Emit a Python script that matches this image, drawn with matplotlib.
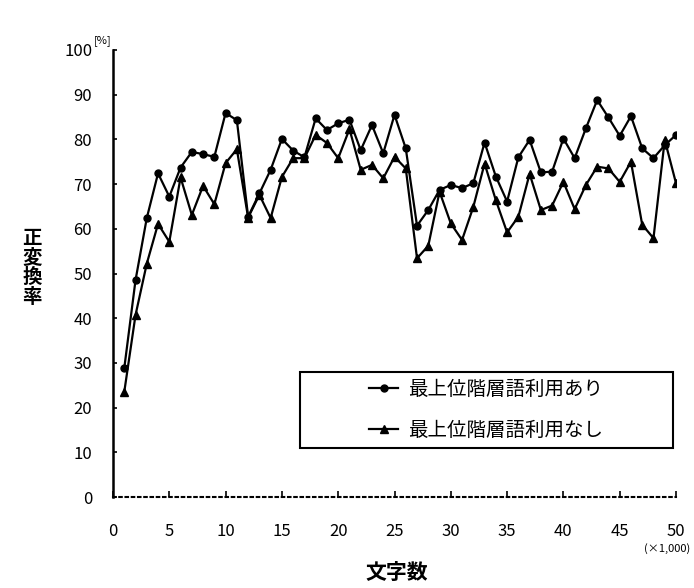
import matplotlib
matplotlib.use("Agg")
import matplotlib.pyplot as plt
from matplotlib.patches import Rectangle

plt.rcParams['font.family'] = ['Noto Sans CJK JP', 'DejaVu Sans']

chars_k = list(range(1, 51))
with_top = [28.8, 48.5, 62.4, 72.4, 67.2, 73.7, 77.2, 76.7, 76.1, 85.9,
            84.3, 62.7, 67.9, 73.2, 80.1, 77.5, 76.0, 84.7, 82.1, 83.6,
            84.4, 77.6, 83.2, 76.9, 85.5, 78.0, 60.7, 64.2, 68.7, 69.8,
            69.1, 70.2, 79.3, 71.7, 66.1, 76.0, 79.9, 72.6, 72.8, 80.2,
            75.8, 82.5, 88.8, 84.9, 80.8, 85.2, 78.0, 75.8, 78.7, 81.0]
without_top = [23.5, 40.7, 52.2, 61.1, 57.1, 71.5, 63.1, 69.6, 65.5, 74.7,
               77.8, 62.5, 67.6, 62.4, 71.6, 75.8, 75.8, 81.0, 79.2, 75.8,
               82.3, 73.2, 74.3, 71.3, 76.1, 73.5, 53.4, 56.2, 68.3, 61.2,
               57.5, 64.9, 74.6, 66.4, 59.2, 62.7, 72.3, 64.2, 65.2, 70.5,
               64.4, 69.8, 73.9, 73.5, 70.5, 75.0, 60.9, 57.9, 79.9, 70.2]
labels = ['最上位階層語利用あり', '最上位階層語利用なし']
xticks = list(range(0, 51, 5))
yticks = list(range(0, 101, 10))

fig = plt.figure(figsize=(6.94, 5.88), dpi=100)
ax = fig.add_axes([113/694, 91/588, 563/694, 447/588])

ax.plot(chars_k, with_top, color='black', lw=1.6, marker='o', ms=5, label=labels[0])
ax.plot(chars_k, without_top, color='black', lw=1.6, marker='^', ms=5.5, label=labels[1])

ax.set_xlim(0, 50)
ax.set_ylim(0, 100)
ax.set_xticks(xticks)
ax.set_yticks(yticks)
ax.tick_params(axis='x', direction='in', length=4, width=1.2, pad=19, labelsize=12)
ax.tick_params(axis='y', direction='in', length=3, width=1.2, pad=15, labelsize=12)
for s in ('top', 'right'):
    ax.spines[s].set_visible(False)
ax.spines['left'].set_linewidth(1.8)
ax.spines['bottom'].set_linewidth(1.5)
ax.spines['bottom'].set_linestyle((0, (1.2, 1.8)))

ax.text(-0.002, 1.01, '[%]', transform=ax.transAxes, fontsize=8, ha='right', va='bottom')
fig.text(690/694, 1 - 549/588, '(×1,000)', fontsize=8, ha='right', va='center')
fig.text(397/694, 1 - 572/588, '文字数', fontsize=15, ha='center', va='center', fontweight='bold')
fig.text(32/694, 1 - 268/588, '\n'.join('正変換率'), fontsize=14, ha='center', va='center',
         linespacing=1.05, fontweight='bold')

leg = ax.legend(loc='center', bbox_to_anchor=(0.663, 0.195), frameon=False, fontsize=14,
                handlelength=1.5, handletextpad=0.5, labelspacing=1.0)
ax.add_patch(Rectangle((0.332, 0.110), 0.663, 0.170, transform=ax.transAxes,
                       fill=False, edgecolor='black', lw=1.5, clip_on=False))

fig.savefig('out.png', dpi=100)
